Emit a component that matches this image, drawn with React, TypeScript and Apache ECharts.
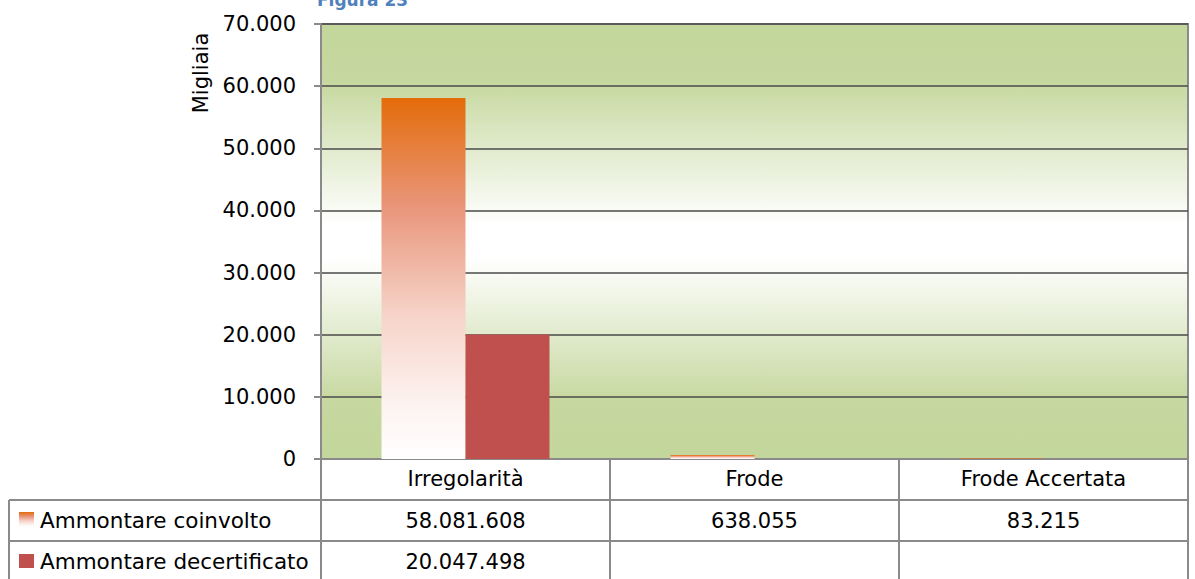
import React, { useEffect, useRef } from "react";
import * as echarts from "echarts";

const categories = ["Irregolarità", "Frode", "Frode Accertata"];
const seriesNames = ["Ammontare coinvolto", "Ammontare decertificato"];
const coinvolto: (number | null)[] = [58081608, 638055, 83215];
const decertificato: (number | null)[] = [20047498, null, null];
const yMin = 0;
const yMax = 70000;
const yInterval = 10000;
const unitLabel = "Migliaia";
const titleText = "Figura 23";

const FONT = "DejaVu Sans";
const fmt = (n: number) =>
  String(Math.round(n)).replace(/\B(?=(\d{3})+(?!\d))/g, ".");

const W = 1195;
const H = 579;
const GRID = { left: 321, right: 7, top: 24, bottom: 120 };
const ROW1 = 500; // top line of first value row
const ROW2 = 541; // top line of second value row
const LINE_COLOR = "#8a8a8a";
const ORANGE = "#e46c0a";
const RED = "#c0504d";

const orangeStops = () => [
  { offset: 0, color: ORANGE },
  { offset: 0.3, color: "#e9957a" },
  { offset: 0.6, color: "#f6d3c9" },
  { offset: 0.85, color: "#fdf3f0" },
  { offset: 1, color: "#ffffff" },
];

export default function App() {
  const ref = useRef<HTMLDivElement>(null);
  useEffect(() => {
    if (!ref.current) return;
    const chart = echarts.init(ref.current, undefined, { renderer: "svg" });
    const orangeGrad = new echarts.graphic.LinearGradient(0, 0, 0, 1, orangeStops());
    const bgGrad = new echarts.graphic.LinearGradient(0, 0, 0, 1, [
      { offset: 0, color: "#c3d69b" },
      { offset: 0.13, color: "#c6d89f" },
      { offset: 0.46, color: "#ffffff" },
      { offset: 0.54, color: "#ffffff" },
      { offset: 0.87, color: "#c6d89f" },
      { offset: 1, color: "#c3d69b" },
    ]);
    const option: any = {
      animation: false,
      grid: {
        ...GRID,
        show: true,
        backgroundColor: bgGrad,
        borderColor: LINE_COLOR,
        borderWidth: 2,
        containLabel: false,
      },
      xAxis: {
        type: "category",
        data: categories,
        axisLine: { lineStyle: { color: LINE_COLOR, width: 2 } },
        axisTick: { show: true, length: GRID.bottom, lineStyle: { color: LINE_COLOR, width: 2 } },
        axisLabel: { margin: 9, fontSize: 21, fontFamily: FONT, color: "#000" },
      },
      yAxis: {
        type: "value",
        min: yMin,
        max: yMax,
        interval: yInterval,
        axisLine: { show: true, lineStyle: { color: LINE_COLOR, width: 2 } },
        axisTick: { show: true, length: 7, lineStyle: { color: LINE_COLOR, width: 2 } },
        axisLabel: {
          margin: 25,
          fontSize: 21,
          fontFamily: FONT,
          color: "#000",
          formatter: (v: number) => fmt(v),
        },
        splitLine: { show: true, lineStyle: { color: "#4a4a4a", width: 1.5 } },
      },
      series: [
        {
          name: seriesNames[0],
          type: "bar",
          barWidth: 84,
          barGap: "0%",
          data: coinvolto.map((v) => (v == null ? null : v / 1000)),
          itemStyle: { color: orangeGrad },
        },
        {
          name: seriesNames[1],
          type: "bar",
          barWidth: 84,
          barGap: "0%",
          data: decertificato.map((v) => (v == null ? null : v / 1000)),
          itemStyle: { color: RED },
        },
      ],
    };
    chart.setOption(option);

    const xs = categories.map((c) => chart.convertToPixel({ xAxisIndex: 0 }, c) as number);
    const rightEdge = W - GRID.right;
    const rows = [coinvolto, decertificato];
    const rowTops = [ROW1, ROW2];
    const rowH = ROW2 - ROW1;
    const elements: any[] = [
      {
        type: "text",
        x: 317,
        y: 0,
        style: {
          text: titleText,
          fontSize: 17,
          fontWeight: "bold",
          fontFamily: FONT,
          fill: "#4f81bd",
          verticalAlign: "middle",
        },
      },
      {
        type: "text",
        x: 201,
        y: 73,
        rotation: Math.PI / 2,
        style: {
          text: unitLabel,
          fontSize: 21,
          fontFamily: FONT,
          fill: "#000",
          align: "center",
          verticalAlign: "middle",
        },
      },
      { type: "line", shape: { x1: 9, y1: ROW1, x2: rightEdge, y2: ROW1 }, style: { stroke: LINE_COLOR, lineWidth: 2 } },
      { type: "line", shape: { x1: 9, y1: ROW2, x2: rightEdge, y2: ROW2 }, style: { stroke: LINE_COLOR, lineWidth: 2 } },
      { type: "line", shape: { x1: 9, y1: ROW1, x2: 9, y2: H }, style: { stroke: LINE_COLOR, lineWidth: 2 } },
      {
        type: "rect",
        shape: { x: 19, y: ROW1 + 12, width: 15, height: 15 },
        style: {
          fill: new echarts.graphic.LinearGradient(0, 0, 0, 1, orangeStops()),
        },
      },
      { type: "rect", shape: { x: 19, y: ROW2 + 13, width: 15, height: 14 }, style: { fill: RED } },
    ];
    seriesNames.forEach((name, r) => {
      elements.push({
        type: "text",
        x: 40,
        y: rowTops[r] + rowH / 2,
        style: { text: name, fontSize: 21.5, fontFamily: FONT, fill: "#000", verticalAlign: "middle" },
      });
      rows[r].forEach((v, i) => {
        if (v == null) return;
        elements.push({
          type: "text",
          x: xs[i],
          y: rowTops[r] + rowH / 2,
          style: {
            text: fmt(v),
            fontSize: 21,
            fontFamily: FONT,
            fill: "#000",
            align: "center",
            verticalAlign: "middle",
          },
        });
      });
    });
    chart.setOption({ graphic: { elements } });
    return () => chart.dispose();
  }, []);
  return (
    <div
      ref={ref}
      style={{ position: "fixed", left: 0, top: 0, width: W, height: H, background: "#fff" }}
    />
  );
}
